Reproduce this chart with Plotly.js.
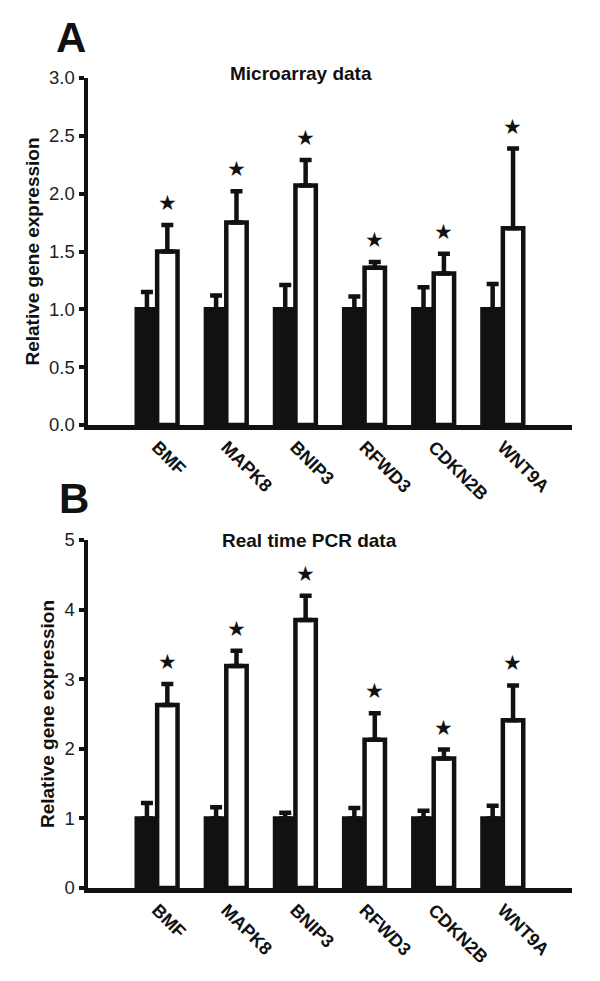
<!DOCTYPE html>
<html>
<head>
<meta charset="utf-8">
<script src="https://cdn.plot.ly/plotly-3.0.1.min.js"></script>
<style>
  body { margin: 0; background: #fff; }
  #chart { width: 600px; height: 981px; }
</style>
</head>
<body>
<div id="chart"></div>
<script>
// gene list shared by both panels
const genes = ['BMF', 'MAPK8', 'BNIP3', 'RFWD3', 'CDKN2B', 'WNT9A'];

// panel A - microarray
const microControl = [1, 1, 1, 1, 1, 1];
const microControlErr = [0.15, 0.12, 0.21, 0.11, 0.19, 0.22];
const microTreated = [1.50, 1.75, 2.07, 1.36, 1.31, 1.70];
const microTreatedErr = [0.23, 0.27, 0.22, 0.05, 0.17, 0.69];

// panel B - real time PCR
const pcrControl = [1, 1, 1, 1, 1, 1];
const pcrControlErr = [0.22, 0.16, 0.08, 0.15, 0.11, 0.18];
const pcrTreated = [2.63, 3.19, 3.85, 2.13, 1.86, 2.41];
const pcrTreatedErr = [0.30, 0.22, 0.35, 0.38, 0.13, 0.50];

const ink = '#111';
const noMinus = genes.map(() => 0);

function errBar(arr) {
  return {
    type: 'data', symmetric: false, array: arr, arrayminus: noMinus,
    thickness: 4.5, width: 6, color: ink
  };
}

function controlTrace(y, err, xa, ya) {
  return {
    type: 'bar', x: genes, y: y, xaxis: xa, yaxis: ya,
    marker: { color: ink, line: { color: ink, width: 4.5 } },
    error_y: errBar(err), hoverinfo: 'skip'
  };
}

function treatedTrace(y, err, xa, ya) {
  return {
    type: 'bar', x: genes, y: y, xaxis: xa, yaxis: ya,
    marker: { color: '#fff', line: { color: ink, width: 4.5 } },
    error_y: errBar(err), hoverinfo: 'skip'
  };
}

const data = [
  controlTrace(microControl, microControlErr, 'x', 'y'),
  treatedTrace(microTreated, microTreatedErr, 'x', 'y'),
  controlTrace(pcrControl, pcrControlErr, 'x2', 'y2'),
  treatedTrace(pcrTreated, pcrTreatedErr, 'x2', 'y2')
];

// stars sit on top of each treated error bar
function stars(vals, errs, xr, yr) {
  return genes.map((g, i) => ({
    x: g, y: vals[i] + errs[i], xref: xr, yref: yr,
    text: '★', showarrow: false, xshift: 10, yshift: 22, yanchor: 'middle',
    font: { family: 'DejaVu Sans', size: 21, color: ink }
  }));
}

const sans = 'Liberation Sans, Arial, sans-serif';
const bigFont = { family: sans, size: 42, color: ink, weight: 'bold' };
const headFont = { family: sans, size: 19, color: ink, weight: 'bold' };

const annotations = [
  { text: 'A', x: 71, y: 37 },
  { text: 'B', x: 74, y: 498 }
].map(a => ({
  text: a.text, xref: 'paper', yref: 'paper',
  x: (a.x - 88) / 484, y: 1 - a.y / 981,
  xanchor: 'center', yanchor: 'middle', showarrow: false, font: bigFont
})).concat([
  { text: 'Microarray data', x: (301 - 88) / 484, y: 1 - 73 / 981 },
  { text: 'Real time PCR data', x: (309 - 88) / 484, y: 1 - 540 / 981 }
].map(a => ({
  text: a.text, xref: 'paper', yref: 'paper', x: a.x, y: a.y,
  xanchor: 'center', yanchor: 'middle', showarrow: false, font: headFont
}))).concat(stars(microTreated, microTreatedErr, 'x', 'y'))
  .concat(stars(pcrTreated, pcrTreatedErr, 'x2', 'y2'));

function xAxis(anchor) {
  return {
    anchor: anchor, domain: [0, 1], range: [-1, 6],
    showline: true, linewidth: 4.5, linecolor: ink,
    ticks: '', showgrid: false, zeroline: false, tickangle: 45,
    tickfont: { family: sans, size: 18, color: ink, weight: 'bold' }
  };
}

function yAxis(anchor, domain, range, dtick, fmt) {
  return {
    anchor: anchor, domain: domain, range: range, dtick: dtick, tickformat: fmt,
    showline: true, linewidth: 4.5, linecolor: ink,
    ticks: 'outside', ticklen: 5, tickwidth: 4, tickcolor: ink,
    showgrid: false, zeroline: false,
    tickfont: { family: sans, size: 18.5, color: '#222' },
    title: { text: 'Relative gene expression', standoff: 6, font: headFont }
  };
}

const layout = {
  width: 600, height: 981,
  margin: { l: 88, r: 28, t: 0, b: 0 },
  barmode: 'group', bargap: 0.41, bargroupgap: 0,
  showlegend: false,
  paper_bgcolor: '#fff', plot_bgcolor: '#fff',
  font: { family: sans, color: ink },
  xaxis: xAxis('y'),
  yaxis: yAxis('x', [1 - 425 / 981, 1 - 78 / 981], [0, 3], 0.5, '.1f'),
  xaxis2: xAxis('y2'),
  yaxis2: yAxis('x2', [1 - 888 / 981, 1 - 540 / 981], [0, 5], 1, 'd'),
  annotations: annotations
};

Plotly.newPlot('chart', data, layout, { staticPlot: true });
</script>
</body>
</html>
